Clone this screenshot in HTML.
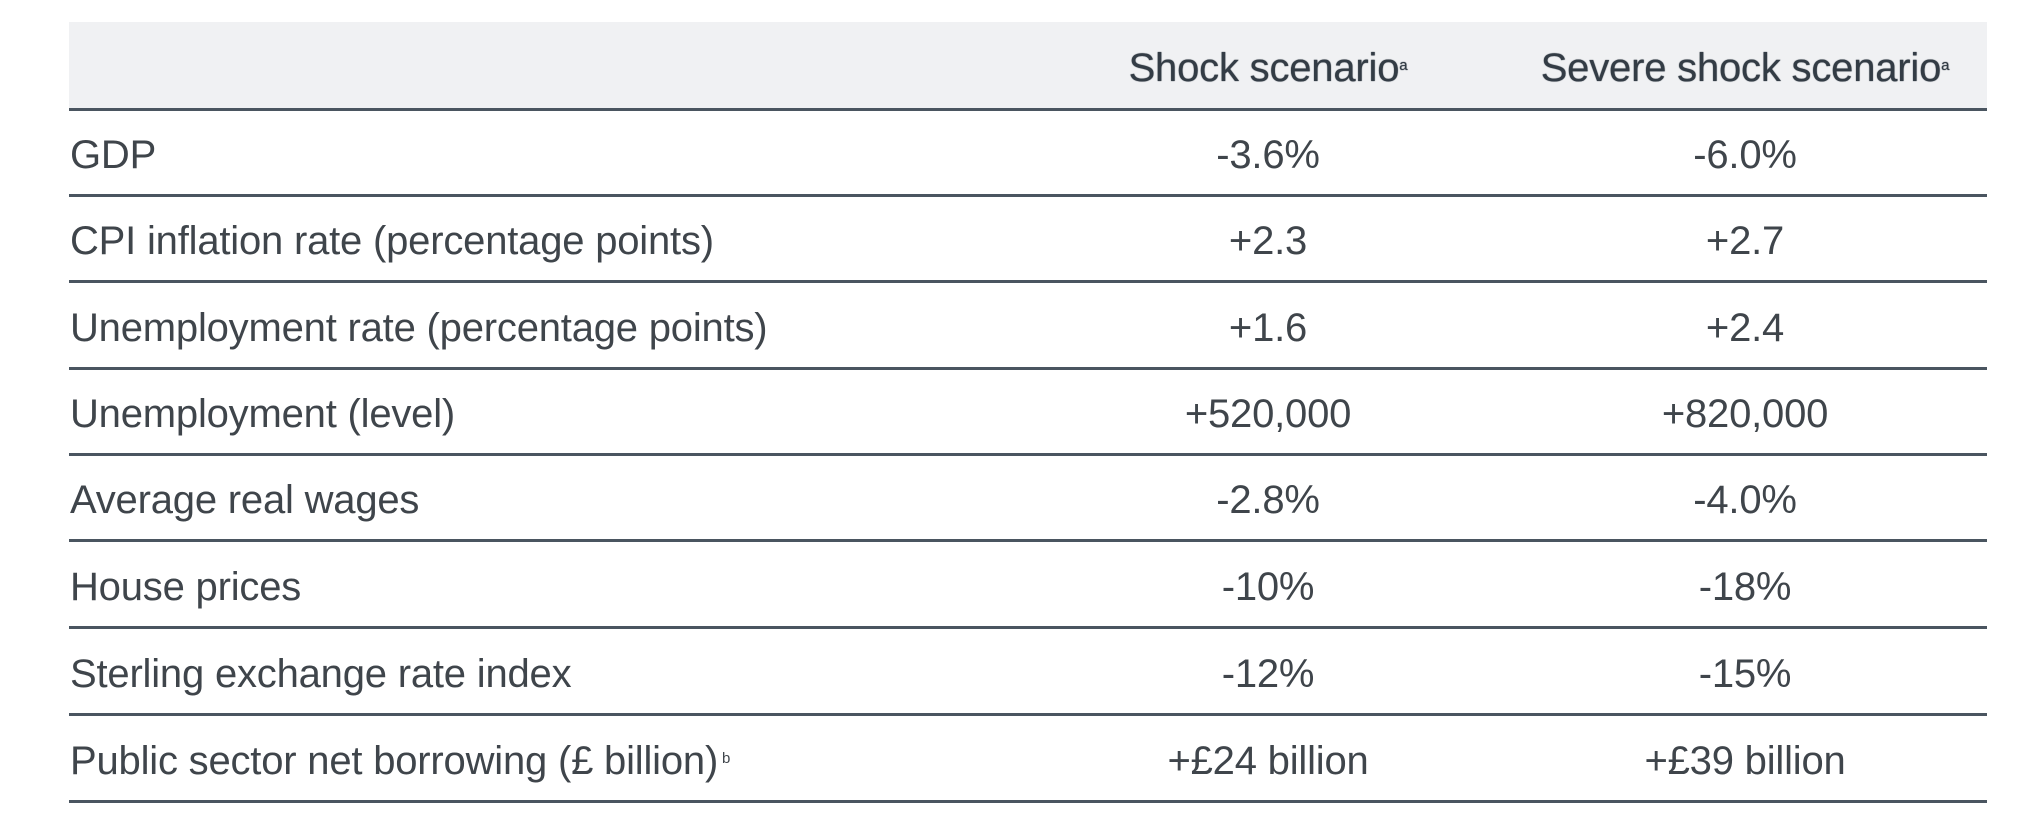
<!DOCTYPE html>
<html><head><meta charset="utf-8"><style>
body{margin:0;width:2040px;height:829px;background:#fff;position:relative;overflow:hidden;font-family:"Liberation Sans",sans-serif;color:#3f454b}
.hdr{position:absolute;left:69px;top:22px;width:1918px;height:88px;background:#f0f1f3}
.line{position:absolute;left:69px;width:1918px;height:3px;background:#4a5560}
.t{position:absolute;font-size:40px;line-height:44px;white-space:nowrap;letter-spacing:-0.2px}
.c1{left:1268px;transform:translateX(-50%)}
.c2{left:1745px;transform:translateX(-50%)}
.h{color:#333c45;text-shadow:0 0 1px #333c45}
sup{font-size:15px;vertical-align:top;position:relative;top:-2px}
</style></head><body>
<div class="hdr"></div>
<div class="t h c1" style="top:46px">Shock scenario<sup>a</sup></div>
<div class="t h c2" style="top:46px">Severe shock scenario<sup>a</sup></div>
<script>
const labels=["GDP","CPI inflation rate (percentage points)","Unemployment rate (percentage points)","Unemployment (level)","Average real wages","House prices","Sterling exchange rate index","Public sector net borrowing (£ billion)"];
const shock=["-3.6%","+2.3","+1.6","+520,000","-2.8%","-10%","-12%","+£24 billion"];
const severe=["-6.0%","+2.7","+2.4","+820,000","-4.0%","-18%","-15%","+£39 billion"];
const lineYs=[108,194,280,367,453,539,626,713,800];
const root=document.body;
lineYs.forEach((y,i)=>{
  const l=document.createElement('div');
  l.className='line';l.style.top=y+'px';
  
  
  root.appendChild(l);
});
labels.forEach((lab,i)=>{
  const top=(lineYs[i]+lineYs[i+1])/2-18;
  const a=document.createElement('div');
  a.className='t';a.style.left='70px';a.style.top=top+'px';
  a.innerHTML=lab+(i===7?'<sup>&nbsp;b</sup>':'');
  
  
  root.appendChild(a);
  const b=document.createElement('div');
  b.className='t c1';b.style.top=top+'px';b.textContent=shock[i];
  
  
  root.appendChild(b);
  const c=document.createElement('div');
  c.className='t c2';c.style.top=top+'px';c.textContent=severe[i];
  
  
  root.appendChild(c);
});
</script>
</body></html>
